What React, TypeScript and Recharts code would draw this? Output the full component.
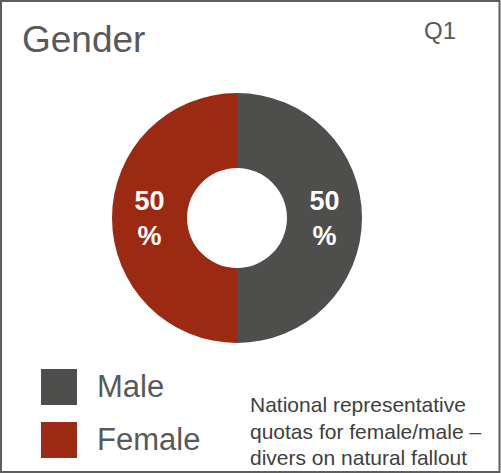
import React from "react";
import { PieChart, Pie, Cell } from "recharts";

const categories = ["Male", "Female"];
const shares = [50, 50];
const colors = ["#4e4e4c", "#9c2a12"];
const title = "Gender";
const questionLabel = "Q1";
const noteLines = [
  "National representative",
  "quotas for female/male –",
  "divers on natural fallout",
];

const data = categories.map((name, i) => ({ name, value: shares[i] }));

const FONT = "'Liberation Sans', Arial, sans-serif";
const RAD = Math.PI / 180;

const renderLabel = (props: any) => {
  const { cx, cy, midAngle, innerRadius, outerRadius, value } = props;
  const r = (innerRadius + outerRadius) / 2;
  const x = cx + r * Math.cos(-midAngle * RAD);
  const y = cy + r * Math.sin(-midAngle * RAD);
  return (
    <text
      x={x}
      y={y}
      fill="#ffffff"
      textAnchor="middle"
      fontFamily={FONT}
      fontWeight="bold"
      fontSize={27}
    >
      <tspan x={x} dy={-8}>{value}</tspan>
      <tspan x={x} dy={35}>%</tspan>
    </text>
  );
};

export default function App() {
  return (
    <div
      style={{
        position: "absolute",
        left: 0,
        top: 0,
        width: 501,
        height: 473,
        background: "#ffffff",
      }}
    >
      <div style={{ position: "absolute", left: 0, top: 0 }}>
        <PieChart width={501} height={473} margin={{ top: 0, right: 0, bottom: 0, left: 0 }}>
          <Pie
            data={data}
            dataKey="value"
            nameKey="name"
            cx={237}
            cy={218}
            innerRadius={50}
            outerRadius={125}
            startAngle={90}
            endAngle={-270}
            stroke="none"
            isAnimationActive={false}
            labelLine={false}
            label={renderLabel}
          >
            {data.map((d, i) => (
              <Cell key={d.name} fill={colors[i]} />
            ))}
          </Pie>
        </PieChart>
      </div>
      <svg
        width={501}
        height={473}
        style={{ position: "absolute", left: 0, top: 0, pointerEvents: "none" }}
      >
        <rect x={1} y={1} width={498.5} height={471} fill="none" stroke="#5e5e5e" strokeWidth={2} />
        <text x={22} y={52} fontFamily={FONT} fontSize={37} fill="#595959">
          {title}
        </text>
        <text x={424} y={39} fontFamily={FONT} fontSize={24} fill="#595959">
          {questionLabel}
        </text>
        {categories.map((c, i) => (
          <g key={c}>
            <rect x={41} y={369 + i * 53} width={36} height={36} fill={colors[i]} />
            <text x={97} y={397 + i * 53} fontFamily={FONT} fontSize={31} fill="#595959">
              {c}
            </text>
          </g>
        ))}
        {noteLines.map((l, i) => (
          <text key={i} x={250} y={412 + i * 26.5} fontFamily={FONT} fontSize={21} fill="#404040">
            {l}
          </text>
        ))}
      </svg>
    </div>
  );
}
